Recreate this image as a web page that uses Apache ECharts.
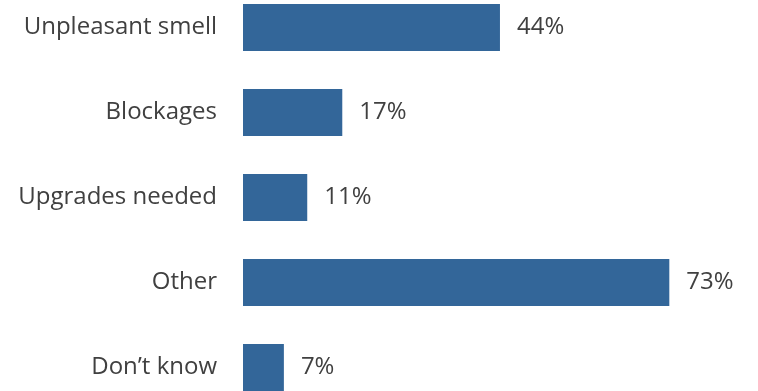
<!DOCTYPE html>
<html>
<head>
<meta charset="utf-8">
<script src="https://cdn.jsdelivr.net/npm/echarts@6/dist/echarts.min.js"></script>
<style>
  html, body { margin: 0; padding: 0; background: #fff; }
  #chart { width: 758px; height: 391px; }
</style>
</head>
<body>
<div id="chart"></div>
<script>
// categories top to bottom
const categories = ["Unpleasant smell", "Blockages", "Upgrades needed", "Other", "Don\u2019t know"];
const percents = [44, 17, 11, 73, 7];

const chart = echarts.init(document.getElementById("chart"));
chart.setOption({
  animation: false,
  grid: {
    left: 243,
    top: -15,
    width: 584,
    height: 425,
    outerBoundsMode: "none",
    containLabel: false,
  },
  xAxis: {
    type: "value",
    min: 0,
    max: 100,
    show: false,
  },
  yAxis: {
    type: "category",
    inverse: true,
    data: categories,
    axisLine: { show: false },
    axisTick: { show: false },
    splitLine: { show: false },
    axisLabel: {
      margin: 26,
      padding: [4, 0, 0, 0],
      fontFamily: "Open Sans",
      fontSize: 24,
      color: "#404040",
    },
  },
  series: [
    {
      type: "bar",
      data: percents,
      barWidth: 47,
      itemStyle: { color: "#336699" },
      label: {
        show: true,
        position: "right",
        distance: 17,
        padding: [4, 0, 0, 0],
        formatter: "{c}%",
        fontFamily: "Open Sans",
        fontSize: 24,
        color: "#404040",
      },
    },
  ],
});
</script>
</body>
</html>
